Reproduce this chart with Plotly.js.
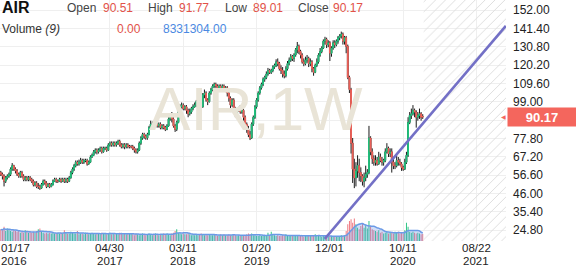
<!DOCTYPE html>
<html><head><meta charset="utf-8">
<script src="https://cdn.plot.ly/plotly-3.0.1.min.js"></script>
<style>html,body{margin:0;padding:0;background:#fff;}#chart{width:576px;height:268px;}</style>
</head><body><div id="chart"></div>
<script>
const symbol = 'AIR';
const watermarkText = 'AIR,1W';
const firstWeek = '2016-01-17';

const open = [
58,57,56,53,55,56,57,60,62,60,
59,57,56,58,56,54,55,54,55,54,
53,51,52,50,50,49,51,53,52,50,
51,50,51,53,54,53,53,54,53,54,
53,54,53,55,58,60,62,64,63,64,
65,64,65,65,63,64,67,68,70,71,
70,71,72,70,72,72,71,74,75,74,
75,74,75,76,74,73,74,73,74,73,
73,73,72,71,70,71,75,78,80,79,
78,80,84,86,86,85,86,85,86,84,
85,84,83,85,89,91,89,85,83,87,
94,96,97,95,96,94,92,93,95,96,
97,99,100,98,96,103,104,100,99,104,
106,108,109,108,107,108,107,108,106,107,
104,101,97,100,95,92,94,95,93,94,
90,86,83,80,78,86,90,96,100,104,
107,109,112,113,115,117,116,117,119,120,
122,121,118,117,115,114,118,121,123,125,
124,126,129,131,128,126,122,121,123,124,
121,122,118,116,120,122,126,128,130,134,
135,132,133,127,130,133,132,134,136,137,
138,134,136,131,113,106,75,60,55,59,
62,58,56,53,55,57,58,78,70,66,
64,65,63,67,65,64,65,70,72,69,
70,64,62,62,65,64,63,61,60,64,
68,87,91,92,94,93,90,91,92,90.51];

const high = [
59,58,57,56,57,58,61,63.5,62.5,61,
60,58,59,59,57,56,56,56,56,55,
54,53,53,52,51,52,54,54,53,52,
52,52,54,55,55,54,55,55,55,55,
55,55,56,59,61,63,65,65,65.5,66.5,
66,66,66,66,65,68,69,71,72,72,
72,73,73,73,73,73,75,76,76,76,
76,76,77,77,75,75,75,75,75,74,
74,74,73,72,72,76,79,81,81,80,
81,85,88,87.5,87,87,87,87,87,86,
86,85,86,90,92,93,90,86,88,95,
97.5,98.5,98,97,97,95,95,96,97.5,98.5,
100,101,101,99,104,106,105,101,105,107,
109,110,110,109,109,109,109,109,108,108,
105,102,101,101,96,95,96,97,95,95,
91,87,85,82,87,91,97,101,105,108,
110,113,114,116.5,118.5,118,118,120,121,123.5,
124,122,120,119,117,119.5,122.5,124.5,126.5,126,
127,130,133.5,132,129,127,124,125,126,125,
124,123,119,121,124,127,130,131,135,136.5,
136,134.5,134,131,134.5,134.5,135,137,138,139.5,
139,137,137,132,114,107,78,66,64,68,
66,61,57,58,62,60,85,79,72,68,
68,67,70,69,67,66,72,75,73,72,
72,66,64,68,67,66,64,62,66,70,
90,93,95,97,95,94,93,95,93,91.77];

const low = [
56,54,50,52,54,55,56,59,59,57.5,
56,55,55,55,53,53,53,53,53,52,
50,50,49,48.5,48,48.5,50.5,51,49,49.5,
49,49.5,50.5,52.5,52,52,52.5,52,52.5,52,
52,52,52.5,54.5,57,59,61,62,62,63,
63,63,64,62,62.5,63.5,66.5,67.5,69,68.5,
69,70,69,69.5,71,70,70.5,73,73,73,
73,73,74,73,72,72,71.5,72,72,72,
72,71,69.5,69,69,70.5,74,77,77.5,77,
77,79.5,83.5,84.5,84,84,84,84,83,83,
83,82,82.5,84.5,88,87,84,81.5,82,86.5,
93,95,94,94,92,90,91,92,94,95.5,
96,98,97,94,95.5,101,99,97,98.5,103,
105,107,107,106,106,105,106,105,104.5,102,
99,93,96,93,90,91,93,92,92,88,
84,81,78.5,76.8,77.5,85,89,95,99,103,
106,108,110.5,112,114,115,115,116,118,119,
119.5,117,115,113,112.5,113,117,120,122,122.5,
122,125,127,126.5,124,121,119.5,120,121.5,119,
119.5,116,114,115.5,119,121,125,127,129.5,132,
130,130.5,122.5,125,129,130,131,132.5,134.5,135.5,
132,132,127,112,104,69,52,49,50,55,
53,52.5,50.5,49.5,53,55,57,68,63,62,
62,62,62.5,64,62,62,64,69,67,67,
58,60,60,61,62,62,59,59,59.5,63,
67,86,89,91,90,84,88,89,88,89.01];

const close = [
57,56,53,55,56,57,60,62,60,59,
57,56,58,56,54,55,54,55,54,53,
51,52,50,50,49,51,53,52,50,51,
50,51,53,54,53,53,54,53,54,53,
54,53,55,58,60,62,64,63,64,65,
64,65,65,63,64,67,68,70,71,70,
71,72,70,72,72,71,74,75,74,75,
74,75,76,74,73,74,73,74,73,73,
73,72,71,70,71,75,78,80,79,78,
80,84,86,86,85,86,85,86,84,85,
84,83,85,89,91,89,85,83,87,94,
96,97,95,96,94,92,93,95,96,97,
99,100,98,96,103,104,100,99,104,106,
108,109,108,107,108,107,108,106,107,104,
101,97,100,95,92,94,95,93,94,90,
86,83,80,78,86,90,96,100,104,107,
109,112,113,115,117,116,117,119,120,122,
121,118,117,115,114,118,121,123,125,124,
126,129,131,128,126,122,121,123,124,121,
122,118,116,120,122,126,128,130,134,135,
132,133,127,130,133,132,134,136,137,138,
134,136,131,113,106,75,60,55,59,62,
58,56,53,55,57,58,78,70,66,64,
65,63,67,65,64,65,70,72,69,70,
64,62,62,65,64,63,61,60,64,68,
87,91,92,94,93,90,91,92,90,90.17];

// weekly volume, millions of shares
const volumeM = [
14,13,17,12,15,13,12,11,13,12,
11,12,10,11,10,13,11,10,11,10,
11,10,12,14,15,11,10,9,10,9,
10,9,10,9,9,10,9,10,9,13,
10,9,9,11,10,9,9,12,8,9,
9,8,10,9,8,9,10,9,8,9,
9,8,10,9,9,8,9,10,8,9,
8,9,8,10,9,8,9,8,9,9,
9,8,7,9,8,7,8,9,8,7,
8,9,8,7,8,9,8,7,8,8,
9,8,9,8,7,9,10,12,14,10,
9,8,9,8,8,9,8,7,8,7,
8,7,8,9,8,7,8,7,8,7,
7,8,7,6,7,8,7,8,7,7,
8,7,7,8,7,6,7,6,7,6,
7,8,9,8,9,7,7,6,6,7,
6,7,6,7,10,7,11,8,7,6,
7,6,6,7,6,8,6,7,6,7,
6,7,6,6,7,6,5,7,6,6,
7,6,6,8,6,7,6,5,6,6,
6,5,6,6,5,6,6,5,6,7,
6,7,12,20,24,26,22,27,20,16,
14,18,21,16,19,15,24,18,14,13,
12,11,13,10,11,9,10,11,9,10,
10,9,11,10,11,9,10,9,13,22,
17,11,10,11,10,9,10,9,8,8.331304];

const priceTicks = [24.8,35.4,46.0,56.6,67.2,77.8,88.4,99.0,109.6,120.2,130.8,141.4,152.0];
const hiddenPriceTick = 88.4;
const dateTicks = ['2016-01-17','2017-04-30','2018-03-11','2019-01-20','2019-12-01','2020-10-11','2021-08-22'];
const dateTickLabels = ['01/17','04/30','03/11','01/20','12/01','10/11','08/22'];
const yearTickLabels = ['2016','2017','2018','2019','','2020','2021'];
const trendDates = ['2019-11-09','2021-12-26'];
const trendPrices = [19.7,142.8];
const futureStart = '2021-01-07';
const futureEnd = '2022-01-20';
const header = {open:'90.51', high:'91.77', low:'89.01', close:'90.17', volMA:'0.00', vol:'8331304.00'};

// ----- derived -----
const d0 = Date.parse(firstWeek + 'T00:00:00Z');
const dates = close.map((_, i) => new Date(d0 + i * 7 * 864e5).toISOString().slice(0, 10));
const bodyHigh = open.map((o, i) => Math.max(o, close[i]));
const bodyLow = open.map((o, i) => Math.min(o, close[i]));
const volMA9 = volumeM.map((_, i) => {
  const s = volumeM.slice(Math.max(0, i - 8), i + 1);
  return s.reduce((a, b) => a + b, 0) / s.length;
});
const GREEN = '#22c27e', RED = '#f0625a';
const volColors = close.map((c, i) => c >= open[i] ? GREEN : '#ee6f78');
const lastClose = close[close.length - 1];
const fs = Date.parse(futureStart), fe = Date.parse(futureEnd);
const FONT = 'Liberation Sans, Arial, sans-serif';

const PW = 506, PH = 241;
const px = x => x / PW, py = y => 1 - y / PH;

const traces = [
  { type: 'scatter', mode: 'text', x: ['2019-01-17'], y: [0.523], yaxis: 'y3', text: [watermarkText],
    textfont: { family: FONT, size: 62, color: '#e9e4d7' }, textposition: 'middle center', hoverinfo: 'skip', cliponaxis: false },
  { type: 'bar', x: [new Date((fs + fe) / 2).toISOString()], y: [1], base: [0], width: [fe - fs], yaxis: 'y3',
    marker: { color: 'rgba(255,255,255,0)', line: { width: 0 },
      pattern: { shape: '/', fgcolor: '#dedede', bgcolor: 'rgba(255,255,255,0)', size: 7, solidity: 0.14 } },
    hoverinfo: 'skip' },
  { type: 'bar', x: dates, y: volumeM, yaxis: 'y2', width: 4 * 864e5,
    marker: { color: volColors, line: { width: 0 } }, hoverinfo: 'skip' },
  { type: 'scatter', mode: 'lines', x: dates, y: volMA9, yaxis: 'y2', fill: 'tozeroy',
    fillcolor: 'rgba(112,156,234,0.33)', line: { color: '#6b9ae6', width: 1.5, shape: 'spline' }, hoverinfo: 'skip' },
  { type: 'candlestick', x: dates, open: open, high: high, low: low, close: close,
    increasing: { line: { color: '#1a1a1a', width: 1 }, fillcolor: '#1a1a1a' },
    decreasing: { line: { color: '#1a1a1a', width: 1 }, fillcolor: '#1a1a1a' }, hoverinfo: 'skip' },
  { type: 'candlestick', x: dates, open: open, high: bodyHigh, low: bodyLow, close: close,
    increasing: { line: { color: GREEN, width: 1 }, fillcolor: GREEN },
    decreasing: { line: { color: RED, width: 1 }, fillcolor: RED }, hoverinfo: 'skip' }
];

const ann = [];
function t(x, y, text, size, color, extra) {
  ann.push(Object.assign({ xref: 'paper', yref: 'paper', x: px(x), y: py(y), text: text, showarrow: false,
    xanchor: 'left', yanchor: 'middle', font: { family: FONT, size: size, color: color } }, extra || {}));
}
t(0, 8, '<b>' + symbol + '</b>', 16, '#111');
t(65, 8, 'Open', 12, '#444'); t(101, 8, header.open, 12, '#e25249');
t(146, 8, 'High', 12, '#444'); t(177, 8, header.high, 12, '#e25249');
t(223, 8, 'Low', 12, '#444'); t(251, 8, header.low, 12, '#e25249');
t(296, 8, 'Close', 12, '#444'); t(331, 8, header.close, 12, '#e25249');
t(0, 29, 'Volume <i>(9)</i>', 12, '#333');
t(115, 29, header.volMA, 12, '#e25249');
t(161, 29, header.vol, 12, '#4a89e2');

dateTicks.forEach((d, i) => {
  const first = i === 0;
  const base = { xref: first ? 'paper' : 'x', x: first ? 0 : d, yref: 'paper', yanchor: 'middle',
    xanchor: first ? 'left' : 'center', showarrow: false, borderpad: 0,
    font: { family: FONT, size: 11.5, color: '#222' } };
  ann.push(Object.assign({}, base, { y: py(248), text: dateTickLabels[i] }));
  if (yearTickLabels[i]) ann.push(Object.assign({}, base, { y: py(261), text: yearTickLabels[i] }));
});

ann.push({ xref: 'paper', x: px(507), yref: 'y', y: lastClose, xanchor: 'left', yanchor: 'middle',
  text: '<b>' + lastClose.toFixed(2) + '</b>', showarrow: false, bgcolor: '#f4665d', width: 66, height: 16, borderpad: 1,
  align: 'center', font: { family: FONT, size: 13, color: '#ffffff' } });
ann.push({ xref: 'paper', x: px(508), yref: 'y', y: lastClose, xanchor: 'right', yanchor: 'middle',
  text: '◀', showarrow: false, font: { family: 'DejaVu Sans', size: 6, color: '#f4665d' } });

const layout = {
  width: 576, height: 268,
  margin: { l: 0, r: 70, t: 0, b: 27, pad: 0 },
  paper_bgcolor: '#fff', plot_bgcolor: '#fff',
  showlegend: false, hovermode: false, barmode: 'overlay',
  font: { family: FONT, size: 12, color: '#222' },
  xaxis: { type: 'date', range: ['2016-01-13 14:00', '2021-12-26 19:00'], rangeslider: { visible: false },
    tickvals: dateTicks.slice(1), showticklabels: false, showgrid: true, gridcolor: '#efefef', gridwidth: 1,
    zeroline: false, showline: false, ticks: '' },
  yaxis: { side: 'right', range: [18.44, 157.78], tickvals: priceTicks,
    ticktext: priceTicks.map(v => v === hiddenPriceTick ? '' : v.toFixed(2)),
    showgrid: true, gridcolor: '#efefef', gridwidth: 1, zeroline: false, showline: false, ticks: '',
    ticklabelstandoff: 6, tickfont: { family: FONT, size: 12, color: '#222' } },
  yaxis2: { overlaying: 'y', range: [0, 289], visible: false, fixedrange: true },
  yaxis3: { overlaying: 'y', range: [0, 1], visible: false, fixedrange: true },
  shapes: [{ type: 'line', xref: 'x', yref: 'y', x0: trendDates[0], y0: trendPrices[0], x1: trendDates[1], y1: trendPrices[1],
    line: { color: '#7370c6', width: 2.5 }, layer: 'above' }],
  annotations: ann
};

Plotly.newPlot('chart', traces, layout, { staticPlot: true, displayModeBar: false });
</script></body></html>
